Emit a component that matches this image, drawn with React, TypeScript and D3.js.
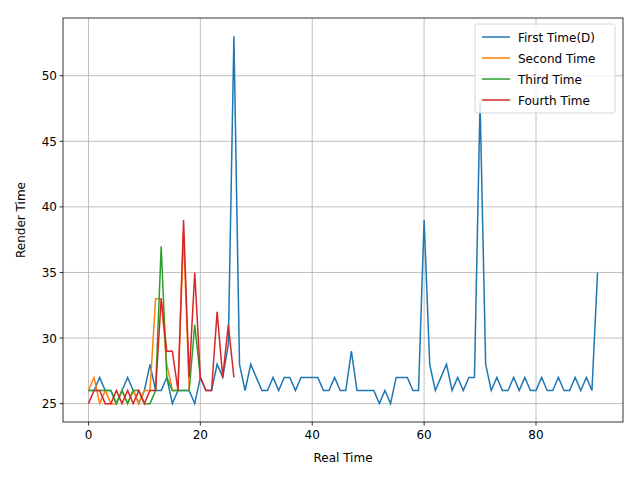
import React from "react";
import * as d3 from "d3";

const first = [26,26,27,26,26,25,26,27,26,25,26,28,26,26,27,25,26,26,26,25,27,26,26,28,27,29.5,53,28,26,28,27,26,26,27,26,27,27,26,27,27,27,27,26,26,27,26,26,29,26,26,26,26,25,26,25,27,27,27,26,26,39,28,26,27,28,26,27,26,27,27,48,28,26,27,26,26,27,26,27,26,26,27,26,26,27,26,26,27,26,27,26,35];
const second = [26,27,25,26,25,25,26,25,26,25,26,26,33,33,28,26,26,38,26];
const third = [26,26,26,26,26,25,26,25,26,26,25,25,26,37,27,26,26,26,26,31,27];
const fourth = [25,26,26,25,25,26,25,26,25,26,25,26,26,33,29,29,26,39,27,35,27,26,26,32,27,31,27];
const seriesNames = ["First Time(D)", "Second Time", "Third Time", "Fourth Time"];
const colors = ["#1f77b4", "#ff7f0e", "#2ca02c", "#d62728"];
const xTicks = [0, 20, 40, 60, 80];
const yTicks = [25, 30, 35, 40, 45, 50];

export default function App() {
  const L = 63, R = 623, T = 18, B = 422;
  const x = d3.scaleLinear().domain([-4.55, 95.55]).range([L, R]);
  const y = d3.scaleLinear().domain([23.6, 54.4]).range([B, T]);
  const line = d3.line<number>().x((_, i) => x(i)).y((d) => y(d));
  const all = [first, second, third, fourth];
  const font = "DejaVu Sans";
  return (
    <svg width={640} height={480} style={{ position: "absolute", left: 0, top: 0, background: "#fff" }} fontFamily={font}>
      <rect x={0} y={0} width={640} height={480} fill="#fff" />
      {xTicks.map((t) => (
        <g key={"x" + t}>
          <line x1={x(t)} x2={x(t)} y1={T} y2={B} stroke="#b0b0b0" strokeWidth={0.8} />
          <line x1={x(t)} x2={x(t)} y1={B} y2={B + 3.5} stroke="#000" strokeWidth={0.8} />
          <text x={x(t)} y={B + 17} fontSize={12} textAnchor="middle">{t}</text>
        </g>
      ))}
      {yTicks.map((t) => (
        <g key={"y" + t}>
          <line x1={L} x2={R} y1={y(t)} y2={y(t)} stroke="#b0b0b0" strokeWidth={0.8} />
          <line x1={L - 3.5} x2={L} y1={y(t)} y2={y(t)} stroke="#000" strokeWidth={0.8} />
          <text x={L - 6} y={y(t) + 4.5} fontSize={12} textAnchor="end">{t}</text>
        </g>
      ))}
      {all.map((s, i) => (
        <path key={i} d={line(s) || ""} fill="none" stroke={colors[i]} strokeWidth={1.5} />
      ))}
      <rect x={L} y={T} width={R - L} height={B - T} fill="none" stroke="#000" strokeWidth={0.8} />
      <text x={(L + R) / 2} y={462} fontSize={12} textAnchor="middle">Real Time</text>
      <text transform={`translate(25,${(T + B) / 2}) rotate(-90)`} fontSize={12} textAnchor="middle">Render Time</text>
      <rect x={475} y={24} width={140} height={89} fill="#fff" fillOpacity={0.8} stroke="#ccc" strokeWidth={0.8} rx={2} />
      {seriesNames.map((n, i) => (
        <g key={n}>
          <line x1={482} x2={510} y1={37 + i * 21} y2={37 + i * 21} stroke={colors[i]} strokeWidth={1.5} />
          <text x={518} y={41.5 + i * 21} fontSize={12}>{n}</text>
        </g>
      ))}
    </svg>
  );
}
